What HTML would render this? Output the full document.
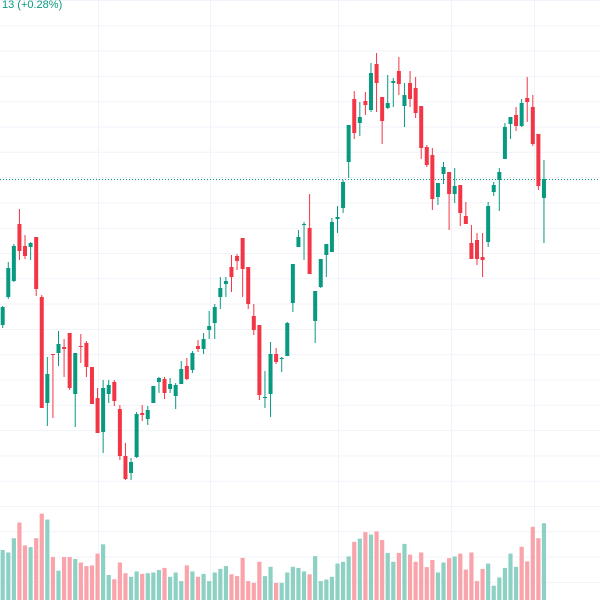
<!DOCTYPE html>
<html><head><meta charset="utf-8"><style>
html,body{margin:0;padding:0;background:#fff;width:600px;height:600px;overflow:hidden}
svg{display:block}
</style></head><body>
<svg id="s" width="600" height="600" xmlns="http://www.w3.org/2000/svg">
<text x="2" y="8" font-family="Liberation Sans, sans-serif" font-size="11" fill="#089981">13 (+0.28%)</text>
</svg>
<script>
(function(){
var C=[
[325,307,306,328],[297,268,262,299],[281,246,244,282],[224,251,209,260],[246,256,235,259],[247,243,242,260],[237,289,237,296],[297,408,295,408],[403,374,357,426],[354,355,354,418],
[353,344,331,366],[347,349,339,377],[333,388,333,390],[394,353,353,427],[346,346.8,334,363],[343,367,341,377],[367,404,367,404],[398,433,388,433],[432,388,380,453],[394,385,380,403],
[382,401,380,406],[409,456,405,460],[456,479,443,480],[473,462,458,480],[457,414,412,458],[413,415,405,421],[419,410,406,425],[403,386,386,403],[382,378,377,393],[379,393,377,399],
[389,384,378,393],[396,385,383,409],[384,369,361,384],[366,379,358,380],[370,353,351,373],[346,349,340,352],[349,339,333,354],[330,326,311,339],[323,307,304,339],[297,288,277,309],
[284,281,277,297],[267,277,255,292],[256,261,254,270],[238,269,238,297],[267,304,267,309],[316,330,304,335],[325,395,325,400],[397.8,397,371,408],[394,354,342,417],[354,362,348,364],
[359,358,357,372],[356,323,322,356],[303,264,264,312],[247,237,230,247],[224.8,224,222,260],[228,274,194,274],[321,291,291,343],[287,259,259,288],[255,244,244,277],[252,222,218,252],
[219,217,206,233],[208,182,180,213],[162,125,125,178],[99,133,91,139],[123,117,102,136],[101,105,92,115],[110,73,63,112],[64,83,53,112],[97,121,97,144],[108,103,75,109],
[83,81,78,107],[71,84,57,95],[106,95,83,127],[83,99,71,107],[88,113,77,118],[106,148,106,159],[147,165,145,167],[155,199,148,210],[197,183,183,205],[174,167,162,184],
[172,194,172,230],[194,186,168,203],[185,213,185,226],[216,224,202,224],[243,259,225,259],[240,259,233,265],[257,260,233,277],[242,206,202,247],[192,185,182,196],[180,172,168,211],
[159,127,123,159],[124,117,117,139],[115,126,107,131],[126,103,99,127],[98,102,77,122],[107,144,95,146],[134,186,134,190],[198,179,160,243]];
var V="140g 147g 107g 63r 127r 132g 107r 38r 55g 160r 198g 160r 160r 165g 175r 185r 183r 150r 124g 210g 222r 175r 205r 215g 200g 207r 205g 203g 196g 190r 215g 203g 227g 183r 200g 215r 207g 227g 203g 193g 185g 208r 213r 162r 227r 232r 173r 213g 187g 232r 232g 203g 187g 190g 200g 208r 157g 227g 223g 215g 178g 173g 158g 117r 108g 90r 97g 88r 112r 148g 173g 148r 123g 153r 173r 147r 188r 168r 203g 175g 163r 158g 150r 195r 147r 227r 193r 178g 240g 217g 190g 150g 187g 131r 172r 75r 107r 65g".split(" ");
var h='';
for(var y=0.5;y<600;y+=25.3)h+='<line x1="0" x2="600" y1="'+y.toFixed(1)+'" y2="'+y.toFixed(1)+'" stroke="#f0f3fa" stroke-width="1"/>';
[98,210,338,451,534].forEach(function(x){h+='<line x1="'+(x+.5)+'" x2="'+(x+.5)+'" y1="0" y2="600" stroke="#f0f3fa" stroke-width="1"/>';});
for(var i=0;i<V.length;i++){var x=2.7+i*5.58,v=V[i],t=500+parseFloat(v)/2.8;
h+='<rect x="'+(x-2.1).toFixed(2)+'" y="'+t.toFixed(1)+'" width="4.2" height="'+(600-t).toFixed(1)+'" fill="'+(v.slice(-1)=='g'?'#8dd1c5':'#f9a3ab')+'"/>';}
h+='<line x1="0" x2="600" y1="179.5" y2="179.5" stroke="#089981" stroke-width="1" stroke-dasharray="1,2"/>';
for(var i=0;i<C.length;i++){var c=C[i],x=2.7+i*5.58,col=c[1]<c[0]?'#089981':'#f23645';
var by=Math.min(c[0],c[1]),bh=Math.max(1,Math.abs(c[1]-c[0]));
h+='<line x1="'+x.toFixed(2)+'" x2="'+x.toFixed(2)+'" y1="'+c[2]+'" y2="'+c[3]+'" stroke="'+col+'" stroke-width="1"/>';
h+='<rect x="'+(x-2).toFixed(2)+'" y="'+by+'" width="4" height="'+bh+'" fill="'+col+'"/>';}
var s=document.getElementById('s');s.innerHTML=h+s.innerHTML;
})();
</script>
</body></html>
